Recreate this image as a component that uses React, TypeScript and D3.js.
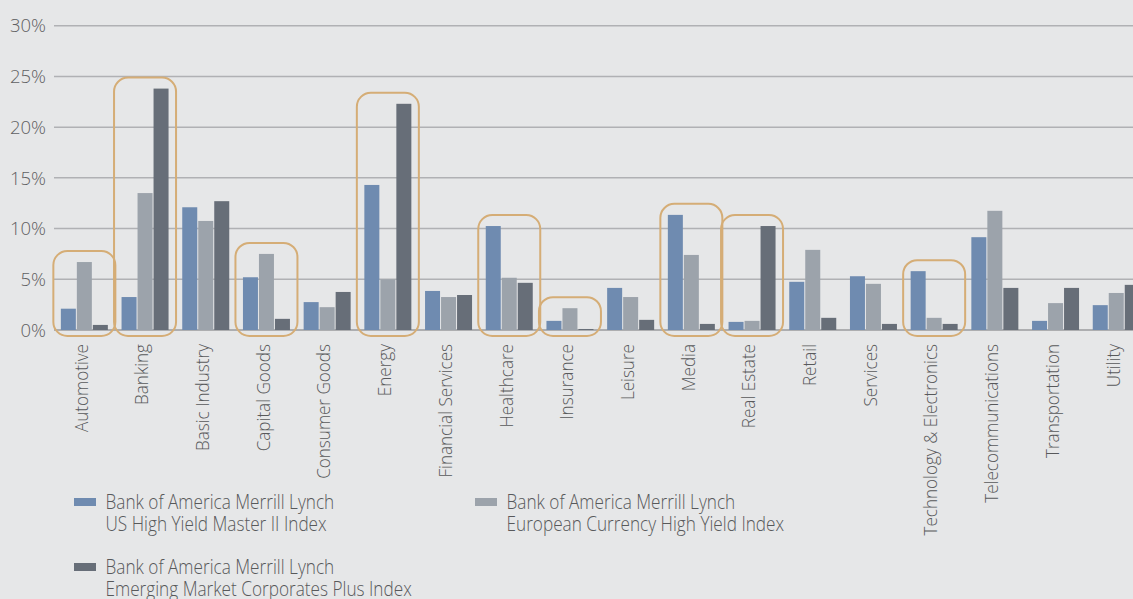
import React, { useEffect, useRef } from "react";
import * as d3 from "d3";

const categories = [
  "Automotive", "Banking", "Basic Industry", "Capital Goods", "Consumer Goods",
  "Energy", "Financial Services", "Healthcare", "Insurance", "Leisure", "Media",
  "Real Estate", "Retail", "Services", "Technology & Electronics",
  "Telecommunications", "Transportation", "Utility",
];
const usHighYield = [2.1, 3.25, 12.1, 5.2, 2.75, 14.3, 3.85, 10.25, 0.9, 4.15, 11.35, 0.8, 4.75, 5.3, 5.8, 9.15, 0.9, 2.45];
const euroHighYield = [6.7, 13.5, 10.75, 7.5, 2.25, 5.0, 3.25, 5.15, 2.15, 3.25, 7.4, 0.9, 7.9, 4.55, 1.2, 11.75, 2.65, 3.65];
const emCorporates = [0.5, 23.8, 12.7, 1.1, 3.75, 22.3, 3.45, 4.65, 0.1, 1.0, 0.6, 10.25, 1.2, 0.6, 0.6, 4.15, 4.15, 4.45];
const yTicks = [0, 5, 10, 15, 20, 25, 30];
const highlighted = [
  "Automotive", "Banking", "Capital Goods", "Energy", "Healthcare",
  "Insurance", "Media", "Real Estate", "Technology & Electronics",
];
const seriesNames = [
  ["Bank of America Merrill Lynch", "US High Yield Master II Index"],
  ["Bank of America Merrill Lynch", "European Currency High Yield Index"],
  ["Bank of America Merrill Lynch", "Emerging Market Corporates Plus Index"],
];

const colors = ["#6f8bb0", "#9ca3ab", "#676e78"];

const App: React.FC = () => {
  const svgRef = useRef<SVGSVGElement | null>(null);

  useEffect(() => {
    const svg = d3.select(svgRef.current);
    svg.selectAll("*").remove();

    const w = 1133;
    const h = 599;
    const font = "'Open Sans', sans-serif";

    svg.attr("width", w).attr("height", h).style("background-color", "#e6e7e8");

    const series = [usHighYield, euroHighYield, emCorporates];

    const x = d3.scaleBand().domain(categories).range([54, 1146.6]).padding(0);
    const groupW = 47;
    const groupOff = (x.bandwidth() - groupW) / 2;
    const xSub = d3
      .scaleBand<number>()
      .domain([0, 1, 2])
      .range([groupOff, groupOff + groupW])
      .paddingInner(1 / 16);
    const y = d3.scaleLinear().domain([0, 30]).range([330, 25.7]);

    // grid + y labels
    const grid = svg.append("g");
    yTicks.forEach((t) => {
      grid
        .append("line")
        .attr("x1", 54)
        .attr("x2", w)
        .attr("y1", y(t))
        .attr("y2", y(t))
        .attr("stroke", t === 0 ? "#9a9b9e" : "#b0b1b4")
        .attr("stroke-width", 1.5);
      grid
        .append("text")
        .attr("x", 46)
        .attr("y", y(t))
        .attr("dy", "0.36em")
        .attr("text-anchor", "end")
        .style("font-family", font)
        .style("font-weight", 300)
        .style("font-size", "18.5px")
        .attr("fill", "#5f6062")
        .text(`${t}%`);
    });

    // bars
    const groups = svg
      .selectAll(".group")
      .data(categories)
      .enter()
      .append("g")
      .attr("class", "group")
      .attr("transform", (d) => `translate(${x(d)}, 0)`);

    groups
      .selectAll("rect")
      .data((_, i) => series.map((s, k) => ({ k, v: s[i] })))
      .enter()
      .append("rect")
      .attr("x", (d) => xSub(d.k)!)
      .attr("y", (d) => y(d.v))
      .attr("width", xSub.bandwidth())
      .attr("height", (d) => y(0) - y(d.v))
      .attr("fill", (d) => colors[d.k]);

    // highlight boxes
    highlighted.forEach((c) => {
      const i = categories.indexOf(c);
      const top = d3.max(series, (s) => s[i]) || 0;
      const x0 = x(c)! + groupOff - 7.5;
      svg
        .append("rect")
        .attr("x", x0)
        .attr("y", y(top) - 11)
        .attr("width", groupW + 15)
        .attr("height", y(0) + 6 - (y(top) - 11))
        .attr("rx", 14)
        .attr("fill", "none")
        .attr("stroke", "#d5ad76")
        .attr("stroke-width", 2);
    });

    // category labels
    categories.forEach((c) => {
      const cx = x(c)! + x.bandwidth() / 2;
      svg
        .append("text")
        .attr("transform", `translate(${cx - 3.5}, 344) rotate(-90) scale(0.9, 1)`)
        .attr("dy", "0.36em")
        .attr("text-anchor", "end")
        .style("font-family", font)
        .style("font-weight", 300)
        .style("font-size", "19px")
        .attr("fill", "#58595b")
        .text(c);
    });

    // legend
    const legendPos = [
      [74, 498],
      [475, 498],
      [74, 563],
    ];
    seriesNames.forEach((lines, k) => {
      const [lx, ly] = legendPos[k];
      const g = svg.append("g").attr("transform", `translate(${lx}, ${ly})`);
      g.append("rect").attr("width", 22).attr("height", 8).attr("fill", colors[k]);
      lines.forEach((t, j) => {
        g.append("text")
          .attr("transform", `translate(31.5, ${11 + j * 21.5}) scale(0.86, 1)`)
          .style("font-family", font)
          .style("font-weight", 300)
          .style("font-size", "20px")
          .attr("fill", "#58595b")
          .text(t);
      });
    });
  }, []);

  return (
    <div style={{ position: "absolute", left: 0, top: 0 }}>
      <svg ref={svgRef} style={{ display: "block" }}></svg>
    </div>
  );
};

export default App;
